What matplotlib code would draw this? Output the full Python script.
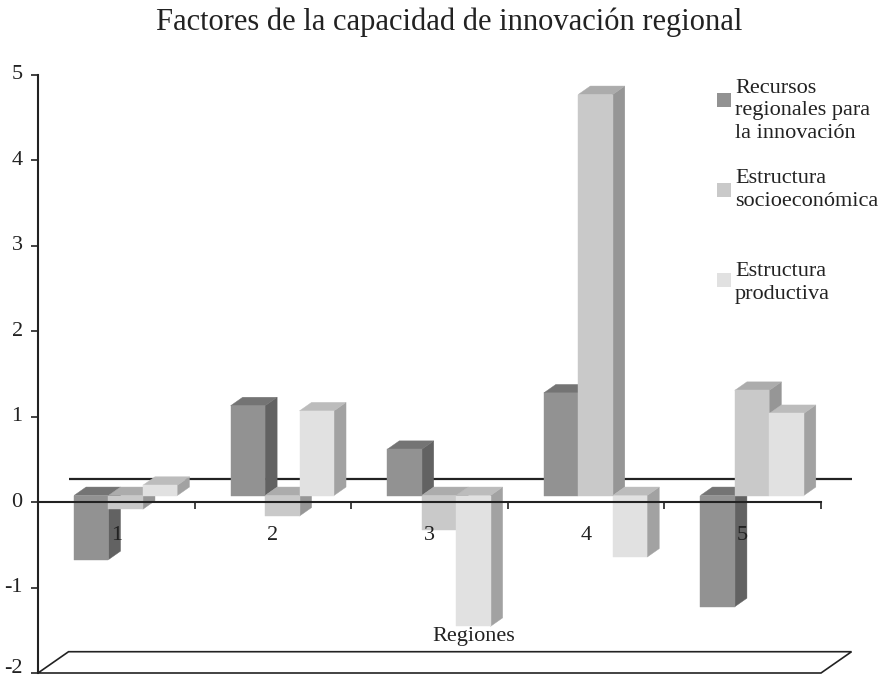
import matplotlib
matplotlib.use("Agg")
import matplotlib.pyplot as plt
import matplotlib.transforms as mtransforms
from matplotlib.patches import Polygon, Rectangle

plt.rcParams['font.family'] = ['Liberation Serif', 'DejaVu Serif']

title = "Factores de la capacidad de innovación regional"
regions = ["1", "2", "3", "4", "5"]
series_names = ["Recursos\nregionales para\nla innovación",
                "Estructura\nsocioeconómica",
                "Estructura\nproductiva"]
recursos = [-0.75, 1.05, 0.54, 1.20, -1.30]
socioeconomica = [-0.16, -0.24, -0.40, 4.69, 1.23]
productiva = [0.12, 0.99, -1.53, -0.72, 0.96]
y_ticks = [-2, -1, 0, 1, 2, 3, 4, 5]
x_label = "Regiones"

series = [recursos, socioeconomica, productiva]
# (front, side, top)
colors = [("#929292", "#626262", "#747474"),
          ("#c9c9c9", "#969696", "#acacac"),
          ("#e1e1e1", "#a2a2a2", "#bcbcbc")]

W, H = 888, 680
fig = plt.figure(figsize=(W / 100, H / 100), dpi=100)
ax = fig.add_axes([38 / W, 7 / H, 783 / W, 598.5 / H])
ax.set_xlim(0, 5)
ax.set_ylim(-2, 5)

# 3D geometry (data units)
fdx, fdy_floor, fdy_zero = 0.195, 0.249, 0.265   # wall depth
bdx, bdy = 0.06, 0.076                            # bar plane offset
ddx, ddy = 0.077, 0.099                           # bar depth
bw = 0.22
gap = (1 - 3 * bw) / 2

# floor
floor = Polygon([(0, -2), (5, -2), (5 + fdx, -2 + fdy_floor), (fdx, -2 + fdy_floor)],
                closed=True, facecolor="white", edgecolor="#222222", lw=1.2,
                clip_on=False, zorder=0.2)
ax.add_patch(floor)
# back wall zero line
ax.plot([fdx, 5 + fdx], [fdy_zero, fdy_zero], color="#222222", lw=1.6,
        clip_on=False, zorder=0.3, solid_capstyle="butt")

z = 0.5
for i in range(len(regions)):
    for s, vals in enumerate(series):
        v = vals[i]
        x0 = i + gap + s * bw + bdx
        x1 = x0 + bw
        y0 = min(0, v) + bdy
        y1 = max(0, v) + bdy
        fc, sc, tc = colors[s]
        front = Polygon([(x0, y0), (x1, y0), (x1, y1), (x0, y1)], closed=True,
                        facecolor=fc, edgecolor=fc, lw=0.3, clip_on=False, zorder=z)
        side = Polygon([(x1, y0), (x1 + ddx, y0 + ddy), (x1 + ddx, y1 + ddy), (x1, y1)],
                       closed=True, facecolor=sc, edgecolor=sc, lw=0.3, clip_on=False, zorder=z)
        top = Polygon([(x0, y1), (x1, y1), (x1 + ddx, y1 + ddy), (x0 + ddx, y1 + ddy)],
                      closed=True, facecolor=tc, edgecolor=tc, lw=0.3, clip_on=False, zorder=z)
        ax.add_patch(side)
        ax.add_patch(top)
        ax.add_patch(front)
        z += 0.01

# axes styling
for sp in ["top", "right"]:
    ax.spines[sp].set_visible(False)
ax.spines["bottom"].set_position(("data", 0))
ax.spines["bottom"].set_color("#222222")
ax.spines["bottom"].set_linewidth(1.5)
ax.spines["bottom"].set_zorder(3)
ax.spines["left"].set_color("#222222")
ax.spines["left"].set_linewidth(1.5)
ax.set_yticks(y_ticks)
ax.set_yticklabels([str(t) for t in y_ticks])
ax.set_xticks(range(0, 6))
ax.set_xticklabels([""] * 6)
ax.tick_params(axis="y", direction="out", length=5, width=1.2, color="#222222",
               labelsize=16, labelcolor="#222222", pad=6)
ax.tick_params(axis="x", direction="out", length=5, width=1.2, color="#222222")
for t, lab in zip(y_ticks, ax.get_yticklabels()):
    dy = 5.0 if t == y_ticks[0] else 1.5
    shift = mtransforms.ScaledTranslation(0, dy / 72, fig.dpi_scale_trans)
    lab.set_transform(lab.get_transform() + shift)

for i, r in enumerate(regions):
    ax.text(i + 0.5, -0.39, r, ha="center", va="center", fontsize=16,
            color="#222222", zorder=5)

ax.text((474 - 38) / 156.6, -(637 - 502) / 85.5, x_label, ha="center", va="center",
        fontsize=16, color="#222222", zorder=5)

fig.text(449 / W, 1 - 22 / H, title, ha="center", va="center", fontsize=22,
         color="#222222")

# legend
leg_sq_y = [100, 190, 280]
leg_txt_y = [79, 169, 262]
for s in range(3):
    fig.patches.append(Rectangle((717 / W, 1 - (leg_sq_y[s] + 7) / H), 14 / W, 14 / H,
                                 transform=fig.transFigure, facecolor=colors[s][0],
                                 edgecolor="none"))
    fig.text(735 / W, 1 - leg_txt_y[s] / H, series_names[s], ha="left", va="top",
             fontsize=16, color="#222222", linespacing=1.25)

fig.savefig("out.png", dpi=100)
